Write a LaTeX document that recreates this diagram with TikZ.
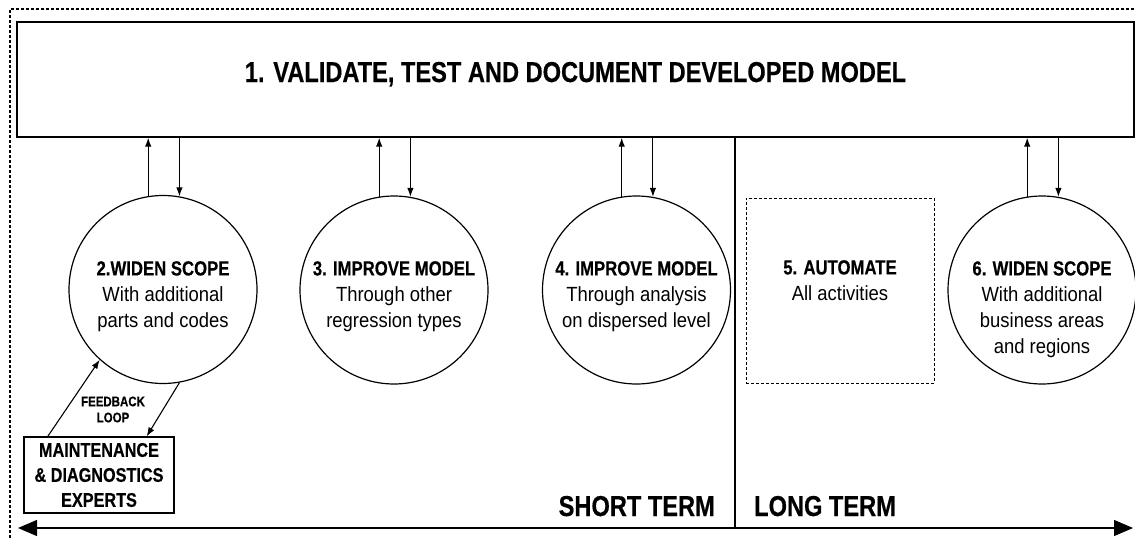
\documentclass[tikz,border=0pt]{standalone}
\usepackage{fontspec}
\setmainfont{Liberation Sans}
\newfontfamily\bfcond{Liberation Sans}[FakeStretch=0.82, BoldFeatures={FakeBold=0.4}]
\newfontfamily\ltcond{Liberation Sans}[FakeStretch=0.9]
\usetikzlibrary{arrows.meta}
\tikzset{
  mainbox/.style={draw, line width=1.4pt, minimum width=1117pt, minimum height=115pt, inner sep=0pt},
  stage/.style={draw, circle, line width=1.2pt, minimum size=188pt, inner sep=0pt},
  autobox/.style={draw, dash pattern=on 3pt off 2pt, line width=1pt, minimum width=188pt, minimum height=185pt, inner sep=0pt},
  stagetext/.style={anchor=north, align=center, inner sep=0pt, font=\ltcond\fontsize{20.5}{26}\selectfont},
  bigbold/.style={inner sep=0pt, font=\bfcond\bfseries\fontsize{28.8}{34}\selectfont},
  expertbox/.style={draw, line width=1.2pt, minimum width=150pt, minimum height=76pt, inner sep=0pt, align=center, font=\bfcond\bfseries\fontsize{19.8}{25}\selectfont},
  smalllabel/.style={inner sep=0pt, align=center, font=\bfcond\bfseries\fontsize{14}{16}\selectfont},
  arr/.style={line width=1.1pt, -{Latex[length=9pt,width=6.5pt]}},
  timeline/.style={line width=1.2pt, {Triangle[length=19pt,width=16pt]}-{Triangle[length=19pt,width=16pt]}},
  frame/.style={line width=1.1pt, dash pattern=on 3pt off 2pt}
}
\newcommand{\hd}[1]{{\bfcond\bfseries\fontsize{20.4}{26}\selectfont #1}}
\begin{document}
\begin{tikzpicture}[x=1pt,y=-1pt]
\useasboundingbox[fill=white] (0,0) rectangle (1135,538);
% outer dashed frame
\coordinate (frBL) at (10,538);
\coordinate (frTL) at (10,9);
\coordinate (frTR) at (1135,9);
\draw[frame] (frBL) -- (frTL) -- (frTR);
% main box
\node[mainbox] (main) at (575.5,79.5) {};
\node[bigbold, anchor=base] (title) at (575.5,82) {1. VALIDATE, TEST AND DOCUMENT DEVELOPED MODEL};
% stages
\node[stage] (c2) at (163,289.5) {};
\node[stage] (c3) at (394,290) {};
\node[stage] (c4) at (636.5,290) {};
\node[autobox] (b5) at (840,290.5) {};
\node[stage] (c6) at (1042,290) {};
\node[stagetext] (t2) at (163,261) {\hd{2.WIDEN SCOPE}\\With additional\\parts and codes};
\node[stagetext] (t3) at (394,261) {\hd{3. IMPROVE MODEL}\\Through other\\regression types};
\node[stagetext] (t4) at (636.5,261) {\hd{4. IMPROVE MODEL}\\Through analysis\\on dispersed level};
\node[stagetext] (t5) at (840,260) {\hd{5. AUTOMATE}\\All activities};
\node[stagetext] (t6) at (1042,261) {\hd{6. WIDEN SCOPE}\\With additional\\business areas\\and regions};
% connectors to main box
\foreach \c in {c2,c3,c4,c6}{
  \draw[arr] (\c.99.5) -- (\c.99.5 |- main.south);
  \draw[arr] (\c.80.5 |- main.south) -- (\c.80.5);
}
% experts and feedback loop
\node[expertbox] (exp) at (99,475) {MAINTENANCE\\\& DIAGNOSTICS\\EXPERTS};
\draw[arr] (exp.143.3) -- (c2.228.2);
\draw[arr] (c2.280.5) -- (exp.39.6);
\node[smalllabel] (fb) at (113,409.5) {FEEDBACK\\LOOP};
% timeline
\coordinate (tlL) at (18,528);
\coordinate (tlR) at (1133,528);
\coordinate (div) at (735,528);
\draw[timeline] (tlL) -- (tlR);
\draw[line width=1.2pt] (div |- main.south) -- (div);
\node[bigbold, anchor=base east] (short) at (715,516) {SHORT TERM};
\node[bigbold, anchor=base west] (long) at (754,516) {LONG TERM};
\end{tikzpicture}
\end{document}
